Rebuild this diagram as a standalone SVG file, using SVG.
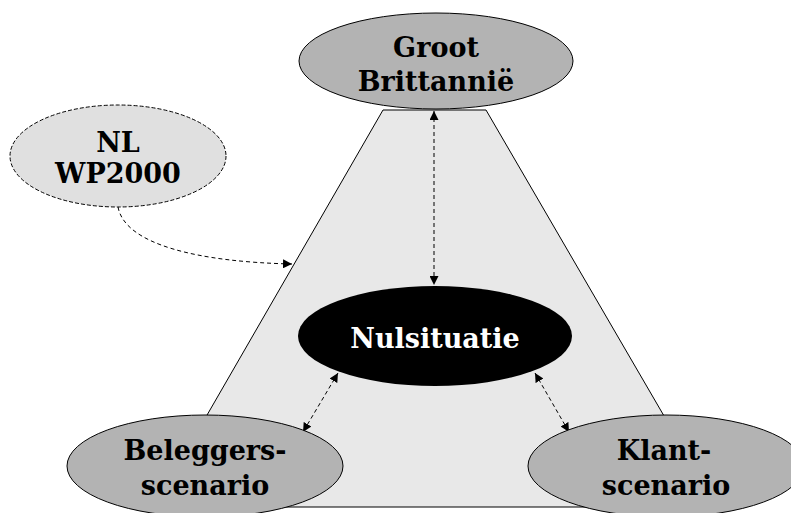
<svg xmlns="http://www.w3.org/2000/svg" width="791" height="513" viewBox="0 0 791 513">
<defs>
<marker id="ah" viewBox="0 0 10 10" refX="10" refY="5" markerWidth="9" markerHeight="9" markerUnits="userSpaceOnUse" orient="auto-start-reverse">
<path d="M0,0 L10,5 L0,10 z" fill="#000"/>
</marker>
<style>
.lbl{font-family:"DejaVu Serif","Liberation Serif",serif;font-weight:bold;font-size:27px;text-anchor:middle;fill:#000}
.node{fill:#b3b3b3;stroke:#000;stroke-width:1}
.conn{fill:none;stroke:#000;stroke-width:1;stroke-dasharray:4,3}
</style>
</defs>
<rect width="791" height="513" fill="#fff"/>
<g id="triangle">
<polygon points="383,110 486,110 717,507 154,507" fill="#e8e8e8" stroke="#000" stroke-width="1"/>
</g>
<g id="connectors">
<path class="conn" d="M118,207 C125,245 200,262 292,264" marker-end="url(#ah)"/>
<line class="conn" x1="434" y1="111" x2="434" y2="285" marker-start="url(#ah)" marker-end="url(#ah)"/>
<line class="conn" x1="338" y1="373" x2="303" y2="432" marker-start="url(#ah)" marker-end="url(#ah)"/>
<line class="conn" x1="535" y1="373" x2="569" y2="432" marker-start="url(#ah)" marker-end="url(#ah)"/>
</g>
<g id="groot">
<ellipse class="node" cx="436" cy="61" rx="137" ry="48"/>
<text class="lbl" x="436" y="57">Groot</text>
<text class="lbl" x="436" y="91">Brittannië</text>
</g>
<g id="nl">
<ellipse cx="118" cy="156" rx="108" ry="51" fill="#e0e0e0" stroke="#000" stroke-width="1" stroke-dasharray="4,2"/>
<text class="lbl" x="118" y="152">NL</text>
<text class="lbl" x="118" y="183">WP2000</text>
</g>
<g id="nulsituatie">
<ellipse cx="435" cy="336" rx="137" ry="50" fill="#000"/>
<text class="lbl" x="435" y="348" style="fill:#fff">Nulsituatie</text>
</g>
<g id="beleggers">
<ellipse class="node" cx="205" cy="466" rx="138" ry="51"/>
<text class="lbl" x="205" y="460">Beleggers-</text>
<text class="lbl" x="205" y="495">scenario</text>
</g>
<g id="klant">
<ellipse class="node" cx="666" cy="466" rx="138" ry="51"/>
<text class="lbl" x="664" y="460">Klant-</text>
<text class="lbl" x="666" y="495">scenario</text>
</g>
</svg>
